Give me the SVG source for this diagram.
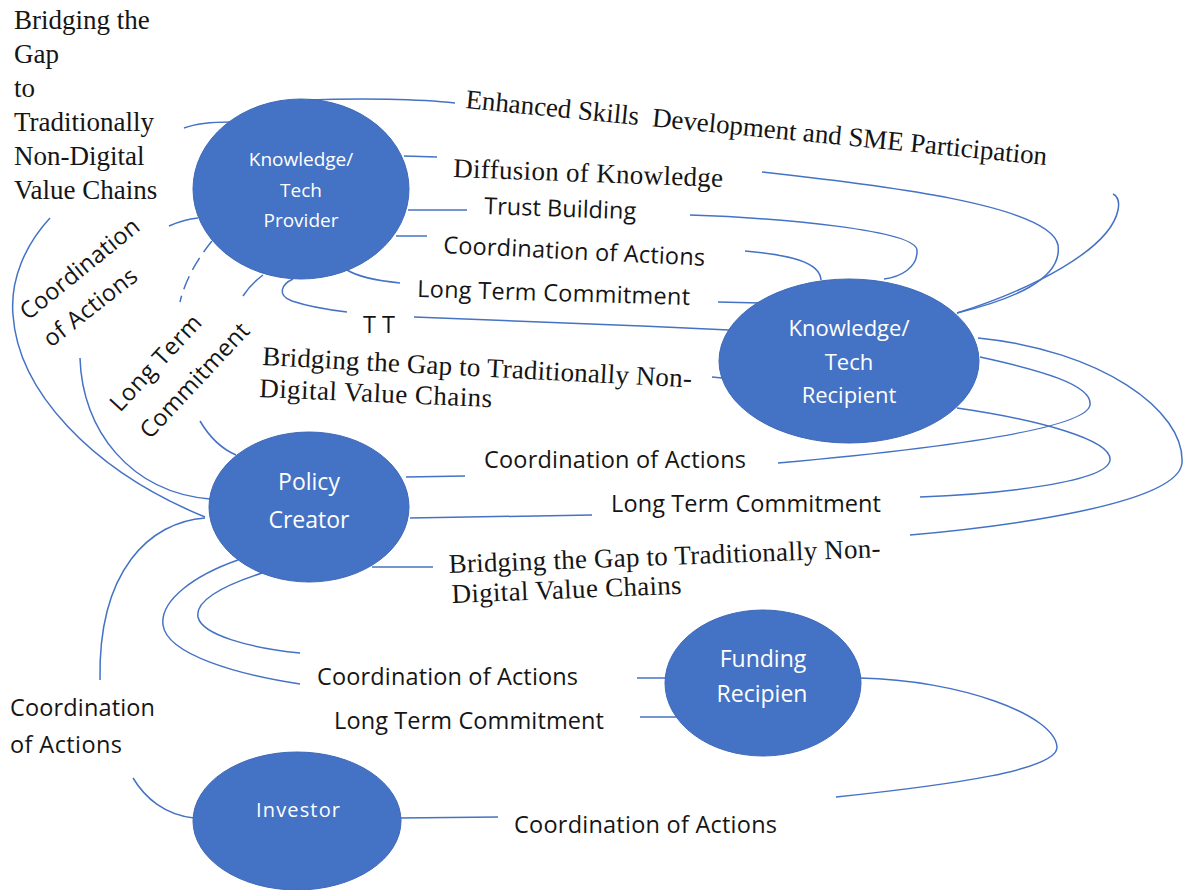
<svg xmlns="http://www.w3.org/2000/svg" width="1186" height="890" viewBox="0 0 1186 890">
<style>
.bg{fill:#fff}
.conn path{fill:none;stroke:#4472C4;stroke-width:1.5}
.conn path.dash{stroke-dasharray:14 7}
.node ellipse{fill:#4472C4;stroke:#3F69B8;stroke-width:1}
.nt{font-family:"Open Sans","Noto Sans",sans-serif;fill:#fff;text-anchor:middle}
.lbl{font-family:"Open Sans","Noto Sans",sans-serif;font-size:23.5px;fill:#151515}
.ser{font-family:"Liberation Serif","Times New Roman",serif;font-size:27px;fill:#151515}
</style>
<rect class="bg" x="0" y="0" width="1186" height="890"/>

<g id="connectors" class="conn">
  <path d="M 308 100 C 360 98 420 99 455 103"/>
  <path d="M 404 156 L 437 157"/>
  <path d="M 408 210 L 467 210"/>
  <path d="M 396 236 L 427 236"/>
  <path d="M 347 270 C 360 278 380 281 400 283"/>
  <path d="M 293 279 C 282 284 276 295 292 301 C 310 307 330 310 347 312"/>
  <path d="M 414 317 C 500 320 620 325 729 330"/>
  <path d="M 184 128 C 195 124 212 122 230 122"/>
  <path d="M 169 226 C 178 222 188 219 198 218"/>
  <path class="dash" d="M 212 241 C 198 258 185 280 180 302"/>
  <path d="M 263 275 C 255 281 248 288 243 296"/>
  <path d="M 50 218 C 25 245 10 280 13 315 C 18 390 90 470 205 517"/>
  <path d="M 80 358 C 82 430 130 492 210 499"/>
  <path d="M 200 421 C 210 438 222 449 236 455"/>
  <path d="M 205 518 C 150 522 98 570 100 680"/>
  <path d="M 238 560 C 195 575 160 600 163 625 C 167 655 240 675 300 684"/>
  <path d="M 262 573 C 225 585 195 600 198 617 C 202 635 250 648 300 653"/>
  <path d="M 133 778 C 145 798 165 815 194 818"/>
  <path d="M 406 477 L 465 476"/>
  <path d="M 410 518 L 592 515"/>
  <path d="M 372 567 L 433 567"/>
  <path d="M 762 172 C 880 185 1050 205 1058 245 C 1063 280 1010 300 957 313"/>
  <path d="M 690 215 C 780 218 915 230 917 250 C 918 268 900 277 884 279"/>
  <path d="M 745 251 C 790 255 820 262 821 280"/>
  <path d="M 718 302 L 760 303"/>
  <path d="M 712 377 L 722 378"/>
  <path d="M 957 313 C 1030 290 1110 250 1118 210 C 1120 200 1117 196 1113 194"/>
  <path d="M 978 338 C 1100 350 1185 410 1182 463 C 1178 505 1000 527 910 535"/>
  <path d="M 980 357 C 1040 370 1093 385 1090 405 C 1086 432 900 452 778 463"/>
  <path d="M 957 408 C 1040 420 1112 440 1110 460 C 1108 482 1000 494 920 497"/>
  <path d="M 637 678 L 668 678"/>
  <path d="M 640 717 L 680 717"/>
  <path d="M 860 678 C 960 680 1055 715 1057 747 C 1058 770 950 785 836 797"/>
  <path d="M 400 818 L 498 817"/>
</g>

<g id="node-provider" class="node">
  <ellipse cx="301" cy="189" rx="108" ry="90"/>
  <text class="nt" font-size="19" x="301" y="166">Knowledge/</text>
  <text class="nt" font-size="19" x="301" y="197">Tech</text>
  <text class="nt" font-size="19" x="301" y="227">Provider</text>
</g>
<g id="node-recipient" class="node">
  <ellipse cx="849" cy="361" rx="130" ry="82"/>
  <text class="nt" font-size="22" x="849" y="336">Knowledge/</text>
  <text class="nt" font-size="22" x="849" y="370">Tech</text>
  <text class="nt" font-size="22" x="849" y="403">Recipient</text>
</g>
<g id="node-policy" class="node">
  <ellipse cx="309" cy="507" rx="100" ry="75"/>
  <text class="nt" font-size="23" x="309" y="490">Policy</text>
  <text class="nt" font-size="23" x="309" y="528">Creator</text>
</g>
<g id="node-funding" class="node">
  <ellipse cx="763" cy="683" rx="98" ry="73"/>
  <text class="nt" font-size="23" x="763" y="667">Funding</text>
  <text class="nt" font-size="23" x="762" y="702">Recipien</text>
</g>
<g id="node-investor" class="node">
  <ellipse cx="297" cy="821" rx="104" ry="69"/>
  <text class="nt" font-size="20" x="298" y="817" textLength="84">Investor</text>
</g>

<g id="labels">
  <text class="ser" x="14" y="29">Bridging the</text>
  <text class="ser" x="14" y="63">Gap</text>
  <text class="ser" x="14" y="97">to</text>
  <text class="ser" x="14" y="131">Traditionally</text>
  <text class="ser" x="14" y="165">Non-Digital</text>
  <text class="ser" x="14" y="199">Value Chains</text>

  <text class="ser" x="465" y="108" transform="rotate(5.6 465 108)" textLength="584" xml:space="preserve">Enhanced Skills  Development and SME Participation</text>
  <text class="ser" x="453" y="177" transform="rotate(2.1 453 177)" textLength="270">Diffusion of Knowledge</text>
  <text class="lbl" x="484" y="214" transform="rotate(2 484 214)" textLength="152">Trust Building</text>
  <text class="lbl" x="443" y="253" transform="rotate(2.8 443 253)" textLength="262">Coordination of Actions</text>
  <text class="lbl" x="417" y="297" transform="rotate(1.7 417 297)" textLength="273">Long Term Commitment</text>
  <text class="lbl" x="363" y="333">T T</text>
  <text class="ser" x="262" y="365" transform="rotate(3 262 365)" textLength="430">Bridging the Gap to Traditionally Non-</text>
  <text class="ser" x="259" y="397" transform="rotate(2.5 259 397)" textLength="233">Digital Value Chains</text>

  <text class="lbl" x="28" y="321" transform="rotate(-39 28 321)" textLength="146">Coordination</text>
  <text class="lbl" x="51" y="348" transform="rotate(-38 51 348)" textLength="112">of Actions</text>
  <text class="lbl" x="120" y="413" transform="rotate(-47 120 413)" textLength="122">Long Term</text>
  <text class="lbl" x="150" y="440" transform="rotate(-47 150 440)" textLength="148">Commitment</text>

  <text class="lbl" x="484" y="468" textLength="262">Coordination of Actions</text>
  <text class="lbl" x="611" y="512" textLength="270">Long Term Commitment</text>
  <text class="ser" x="449" y="573" transform="rotate(-2.1 449 573)" textLength="432">Bridging the Gap to Traditionally Non-</text>
  <text class="ser" x="452" y="603" transform="rotate(-2.3 452 603)" textLength="230">Digital Value Chains</text>

  <text class="lbl" x="317" y="685" textLength="261">Coordination of Actions</text>
  <text class="lbl" x="334" y="729" textLength="270">Long Term Commitment</text>
  <text class="lbl" x="10" y="716" textLength="145">Coordination</text>
  <text class="lbl" x="10" y="753" textLength="112">of Actions</text>
  <text class="lbl" x="514" y="833" textLength="263">Coordination of Actions</text>
</g>
</svg>
